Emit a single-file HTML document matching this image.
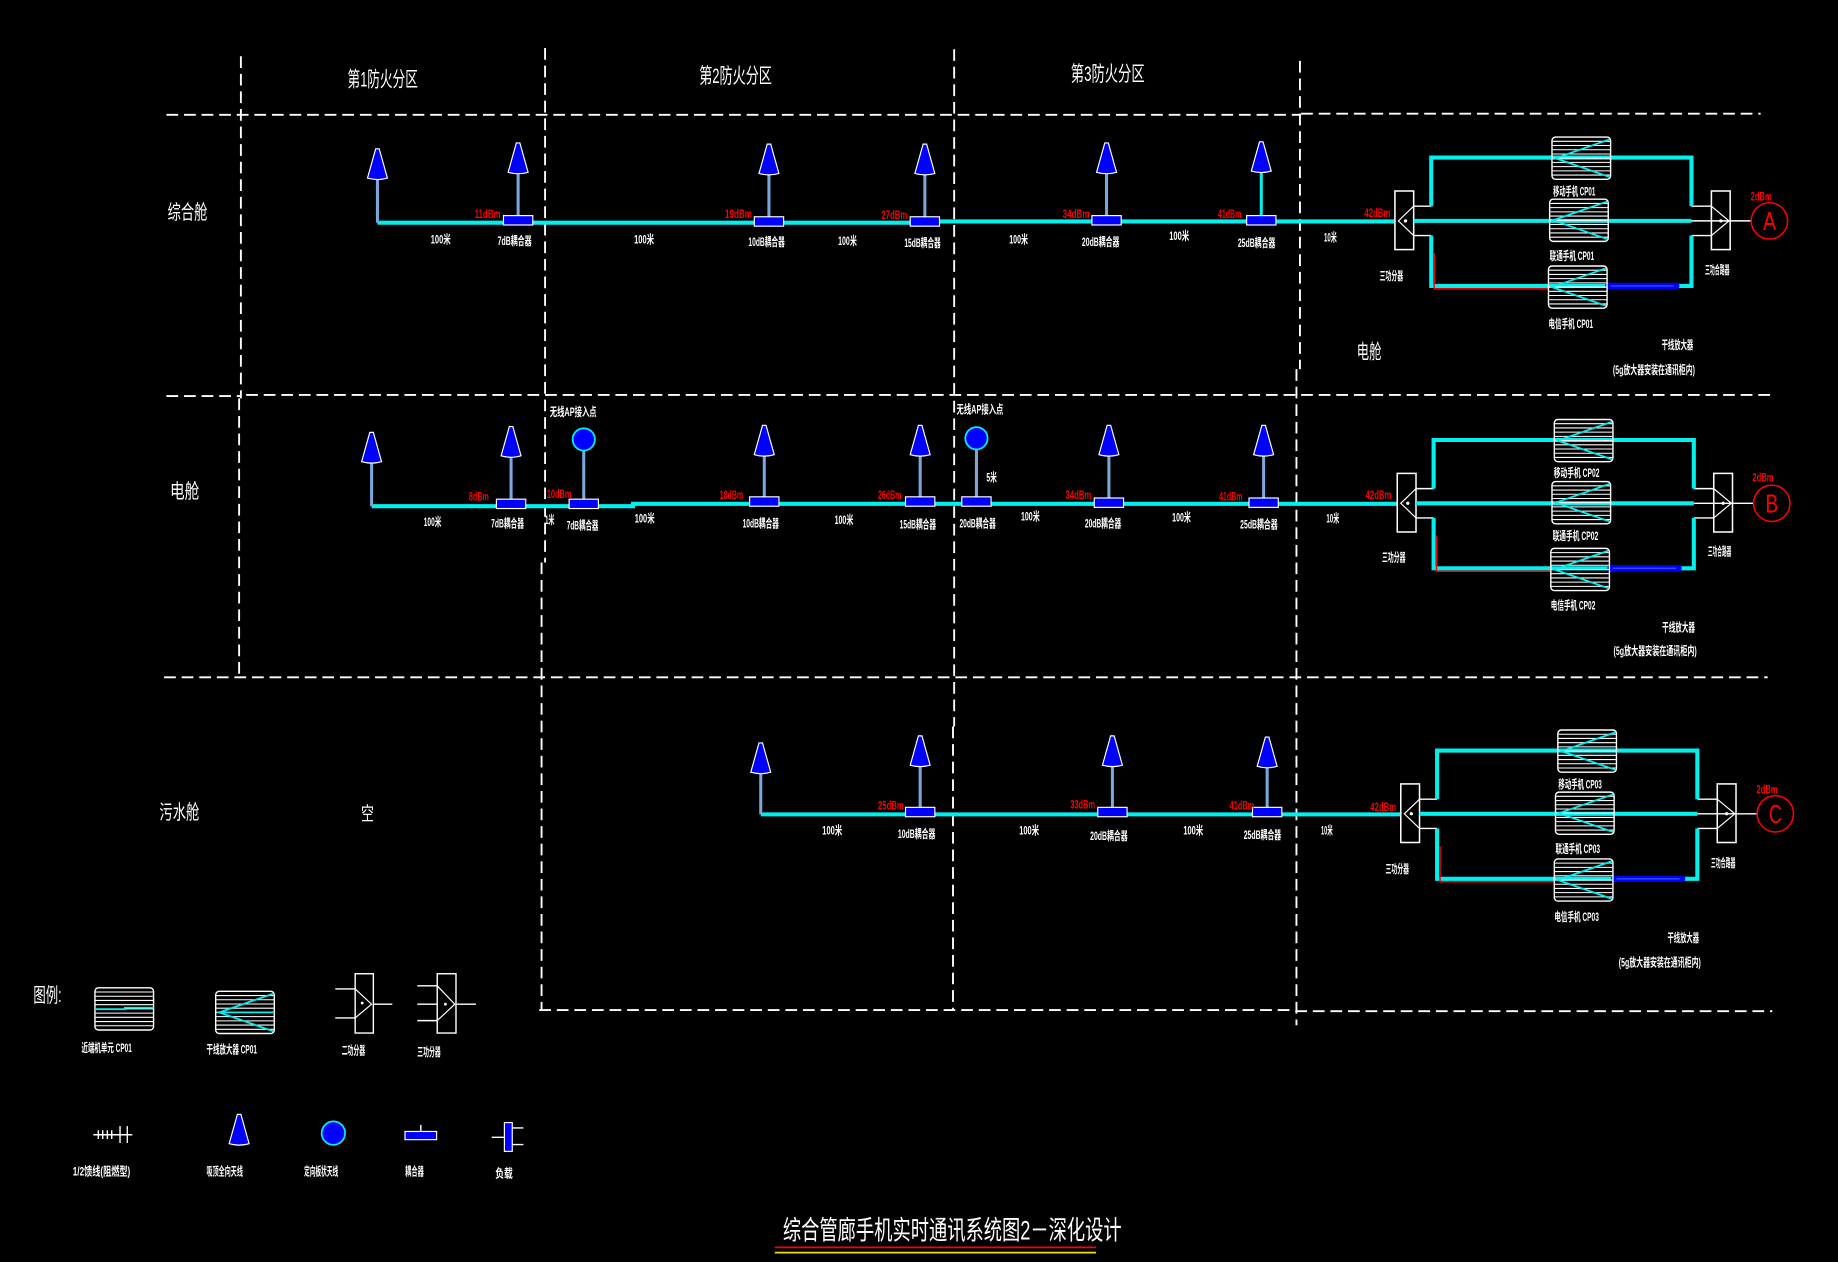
<!DOCTYPE html>
<html><head><meta charset="utf-8"><style>
html,body{margin:0;padding:0;background:#000;width:1838px;height:1262px;overflow:hidden}
svg{display:block}
text{font-family:"Liberation Sans","Noto Sans CJK SC",sans-serif;fill:#fff}
.s{font-size:10px;font-weight:bold}
.r{font-size:10px;font-weight:bold;fill:#ff0000}
.h{font-size:18px}
</style></head><body>
<svg width="1838" height="1262" viewBox="0 0 1568 1077" preserveAspectRatio="none" xmlns="http://www.w3.org/2000/svg" xmlns:xlink="http://www.w3.org/1999/xlink">
<defs>
<path id="ant" d="M-1.5,0 L1.5,0 L8.5,25 Q0,27.5 -8.5,25 Z" fill="#0000ff" stroke="#fff" stroke-width="1"/>
<rect id="cp" x="-12.5" y="-4" width="25" height="8" fill="#0000ff" stroke="#fff" stroke-width="1"/>
<g id="ampbase">
<rect x="0" y="0" width="50" height="36" rx="3" fill="none" stroke="#fff" stroke-width="1.2"/>
<path d="M0.5,3.6H49.5M0.5,7.2H49.5M0.5,10.8H49.5M0.5,14.4H49.5M0.5,18H49.5M0.5,21.6H49.5M0.5,25.2H49.5M0.5,28.8H49.5M0.5,32.4H49.5" stroke="#fff" stroke-width="0.9"/>
</g>
<g id="amp">
<use xlink:href="#ampbase"/>
<polyline points="49,2 3,18 49,34" fill="none" stroke="#00f0f0" stroke-width="1.5"/>
</g>
<g id="rb">
<rect x="1190" y="163" width="16" height="50" fill="none" stroke="#fff" stroke-width="1.3"/>
<polyline points="1206,176 1193,188.5 1206,201" fill="none" stroke="#fff" stroke-width="1"/>
<circle cx="1199" cy="188.5" r="1.4" fill="#fff"/>
<path d="M1206,176H1221M1206,201H1221M1443,176H1460M1443,201H1460M1443,188.5H1476M1476,188.5H1494" stroke="#fff" stroke-width="1.2"/>
<path d="M1221,176V134.5H1443V176M1206,188.5H1443M1221,201V244H1443V201" fill="none" stroke="#00f0f0" stroke-width="3.5"/>
<path d="M1223.5,216V246.5H1321" fill="none" stroke="#ff0000" stroke-width="1.3"/>
<line x1="1372" y1="244" x2="1430" y2="244" stroke="#0000ff" stroke-width="5.5" stroke-linecap="round"/>
<line x1="1374" y1="244" x2="1428" y2="244" stroke="#3050ff" stroke-width="1.2"/>
<rect x="1460" y="163" width="16" height="50" fill="none" stroke="#fff" stroke-width="1.3"/>
<polyline points="1460,176 1475,188.5 1460,201" fill="none" stroke="#fff" stroke-width="1"/>
<circle cx="1468" cy="188.5" r="1.4" fill="#fff"/>
<circle cx="1509.5" cy="188.5" r="15.5" fill="none" stroke="#ff0000" stroke-width="1.3"/>
<use xlink:href="#amp" x="1324" y="117"/>
<use xlink:href="#amp" x="1322" y="170"/>
<use xlink:href="#amp" x="1321" y="227"/>
</g>
</defs>

<!-- dashed grid -->
<g stroke="#fff" stroke-width="1.6" stroke-dasharray="10 5" fill="none">
<path d="M142,98H1110M1110,97H1502"/>
<path d="M142,338H205M210,337H1510"/>
<path d="M140,578H1508"/>
<path d="M460,862H1105M1105,863H1512"/>
<path d="M205.5,48V340M204,340V578"/>
<path d="M465,41V480M462,480V862"/>
<path d="M814,42V620M813,620V862"/>
<path d="M1109,52V315M1106,315V875"/>
</g>

<!-- headers -->
<text class="h" x="326.5" y="74" text-anchor="middle" textLength="60" lengthAdjust="spacingAndGlyphs">第1防火分区</text>
<text class="h" x="627.5" y="71" text-anchor="middle" textLength="62" lengthAdjust="spacingAndGlyphs">第2防火分区</text>
<text class="h" x="945" y="69" text-anchor="middle" textLength="63" lengthAdjust="spacingAndGlyphs">第3防火分区</text>

<text x="160" y="187" font-size="17" text-anchor="middle" textLength="34" lengthAdjust="spacingAndGlyphs">综合舱</text>
<text x="157.5" y="425" font-size="17" text-anchor="middle" textLength="25" lengthAdjust="spacingAndGlyphs">电舱</text>
<text x="153" y="699" font-size="17" text-anchor="middle" textLength="34" lengthAdjust="spacingAndGlyphs">污水舱</text>
<text x="313.5" y="700" font-size="16" text-anchor="middle" textLength="11" lengthAdjust="spacingAndGlyphs">空</text>
<text x="1168" y="306" font-size="17" text-anchor="middle" textLength="21" lengthAdjust="spacingAndGlyphs">电舱</text>

<!-- ROW 1 -->
<path d="M322,190H800V189H1190" fill="none" stroke="#00f0f0" stroke-width="3.5"/>
<g stroke="#7aa8dc" stroke-width="2.6">
<line x1="322" y1="152" x2="322" y2="190"/>
<line x1="442" y1="147" x2="442" y2="186"/>
<line x1="656" y1="148" x2="656" y2="186"/>
<line x1="789" y1="148" x2="789" y2="186"/>
<line x1="944" y1="147" x2="944" y2="186"/>
</g>
<line x1="1076" y1="146" x2="1076" y2="186" stroke="#00f0f0" stroke-width="2.6"/>
<use xlink:href="#ant" x="322" y="127"/>
<use xlink:href="#ant" x="442" y="122"/>
<use xlink:href="#ant" x="656" y="123"/>
<use xlink:href="#ant" x="789" y="123"/>
<use xlink:href="#ant" x="944" y="122"/>
<use xlink:href="#ant" x="1076" y="121"/>
<use xlink:href="#cp" x="442" y="188"/>
<use xlink:href="#cp" x="656" y="189"/>
<use xlink:href="#cp" x="789" y="189"/>
<use xlink:href="#cp" x="944" y="188"/>
<use xlink:href="#cp" x="1076" y="188"/>
<use xlink:href="#rb"/>

<g text-anchor="middle">
<text class="s" x="376" y="208" textLength="17" lengthAdjust="spacingAndGlyphs">100米</text>
<text class="s" x="439" y="209" textLength="29" lengthAdjust="spacingAndGlyphs">7dB耦合器</text>
<text class="s" x="549.5" y="208" textLength="17" lengthAdjust="spacingAndGlyphs">100米</text>
<text class="s" x="654" y="210" textLength="31" lengthAdjust="spacingAndGlyphs">10dB耦合器</text>
<text class="s" x="723" y="209" textLength="16" lengthAdjust="spacingAndGlyphs">100米</text>
<text class="s" x="787" y="211" textLength="31" lengthAdjust="spacingAndGlyphs">15dB耦合器</text>
<text class="s" x="869" y="208" textLength="16" lengthAdjust="spacingAndGlyphs">100米</text>
<text class="s" x="939" y="210" textLength="32" lengthAdjust="spacingAndGlyphs">20dB耦合器</text>
<text class="s" x="1006" y="205" textLength="17" lengthAdjust="spacingAndGlyphs">100米</text>
<text class="s" x="1072" y="211" textLength="32" lengthAdjust="spacingAndGlyphs">25dB耦合器</text>
<text class="s" x="1135" y="206" textLength="11" lengthAdjust="spacingAndGlyphs">10米</text>
<text class="r" x="416" y="186" textLength="22" lengthAdjust="spacingAndGlyphs">11dBm</text>
<text class="r" x="630" y="186" textLength="23" lengthAdjust="spacingAndGlyphs">19dBm</text>
<text class="r" x="763" y="187" textLength="22" lengthAdjust="spacingAndGlyphs">27dBm</text>
<text class="r" x="918" y="186" textLength="23" lengthAdjust="spacingAndGlyphs">34dBm</text>
<text class="r" x="1049" y="186" textLength="20" lengthAdjust="spacingAndGlyphs">41dBm</text>
<text class="r" x="1175" y="185" textLength="22" lengthAdjust="spacingAndGlyphs">42dBm</text>
<text class="r" x="1502.5" y="171" textLength="18" lengthAdjust="spacingAndGlyphs">2dBm</text>
<text x="1509.5" y="196.5" font-size="22" style="fill:#ff0000" textLength="11" lengthAdjust="spacingAndGlyphs">A</text>
<text class="s" x="1187" y="239" textLength="20" lengthAdjust="spacingAndGlyphs">三功分器</text>
<text class="s" x="1465" y="234" textLength="21" lengthAdjust="spacingAndGlyphs">三功合路器</text>
<text class="s" x="1343" y="167" textLength="36" lengthAdjust="spacingAndGlyphs">移动手机 CP01</text>
<text class="s" x="1341" y="222" textLength="38" lengthAdjust="spacingAndGlyphs">联通手机 CP01</text>
<text class="s" x="1340" y="280" textLength="38" lengthAdjust="spacingAndGlyphs">电信手机 CP01</text>
<text class="s" x="1431" y="298" textLength="27" lengthAdjust="spacingAndGlyphs">干线放大器</text>
<text class="s" x="1411" y="319" textLength="70" lengthAdjust="spacingAndGlyphs">(5g放大器安装在通讯柜内)</text>
</g>

<!-- ROW 2 -->
<path d="M317,432H540V430H1192" fill="none" stroke="#00f0f0" stroke-width="3.5"/>
<g stroke="#7aa8dc" stroke-width="2.6">
<line x1="317" y1="393" x2="317" y2="432"/>
<line x1="436" y1="388" x2="436" y2="427"/>
<line x1="498" y1="384" x2="498" y2="427"/>
<line x1="652" y1="387" x2="652" y2="425"/>
<line x1="785" y1="387" x2="785" y2="425"/>
<line x1="833" y1="383" x2="833" y2="425"/>
<line x1="946" y1="387" x2="946" y2="426"/>
<line x1="1078" y1="387" x2="1078" y2="426"/>
</g>
<use xlink:href="#ant" x="317" y="369"/>
<use xlink:href="#ant" x="436" y="364"/>
<use xlink:href="#ant" x="652" y="363"/>
<use xlink:href="#ant" x="785" y="363"/>
<use xlink:href="#ant" x="946" y="363"/>
<use xlink:href="#ant" x="1078" y="363"/>
<circle cx="498" cy="375" r="9.5" fill="#0000ff" stroke="#00f0f0" stroke-width="1.5"/>
<circle cx="833" cy="374" r="9.5" fill="#0000ff" stroke="#00f0f0" stroke-width="1.5"/>
<use xlink:href="#cp" x="436" y="430"/>
<use xlink:href="#cp" x="498" y="430"/>
<use xlink:href="#cp" x="652" y="428"/>
<use xlink:href="#cp" x="785" y="428"/>
<use xlink:href="#cp" x="833" y="428"/>
<use xlink:href="#cp" x="946" y="429"/>
<use xlink:href="#cp" x="1078" y="429"/>
<use xlink:href="#rb" transform="translate(2,241)"/>

<g text-anchor="middle">
<text class="s" x="369" y="449" textLength="15" lengthAdjust="spacingAndGlyphs">100米</text>
<text class="s" x="433" y="450" textLength="28" lengthAdjust="spacingAndGlyphs">7dB耦合器</text>
<text class="r" x="408.5" y="427" textLength="17" lengthAdjust="spacingAndGlyphs">8dBm</text>
<text class="s" x="469" y="447" textLength="8" lengthAdjust="spacingAndGlyphs">1米</text>
<text class="r" x="477" y="425" textLength="21" lengthAdjust="spacingAndGlyphs">10dBm</text>
<text class="s" x="489" y="355" textLength="40" lengthAdjust="spacingAndGlyphs">无线AP接入点</text>
<text class="s" x="497" y="452" textLength="27" lengthAdjust="spacingAndGlyphs">7dB耦合器</text>
<text class="s" x="550" y="446" textLength="17" lengthAdjust="spacingAndGlyphs">100米</text>
<text class="r" x="624" y="426" textLength="20" lengthAdjust="spacingAndGlyphs">18dBm</text>
<text class="s" x="649" y="450" textLength="31" lengthAdjust="spacingAndGlyphs">10dB耦合器</text>
<text class="s" x="720" y="447" textLength="16" lengthAdjust="spacingAndGlyphs">100米</text>
<text class="r" x="759" y="426" textLength="20" lengthAdjust="spacingAndGlyphs">26dBm</text>
<text class="s" x="783" y="451" textLength="31" lengthAdjust="spacingAndGlyphs">15dB耦合器</text>
<text class="s" x="836" y="353" textLength="40" lengthAdjust="spacingAndGlyphs">无线AP接入点</text>
<text class="s" x="846" y="411" textLength="9" lengthAdjust="spacingAndGlyphs">5米</text>
<text class="s" x="834" y="450" textLength="31" lengthAdjust="spacingAndGlyphs">20dB耦合器</text>
<text class="s" x="879" y="444" textLength="16" lengthAdjust="spacingAndGlyphs">100米</text>
<text class="r" x="920" y="426" textLength="22" lengthAdjust="spacingAndGlyphs">34dBm</text>
<text class="s" x="941" y="450" textLength="31" lengthAdjust="spacingAndGlyphs">20dB耦合器</text>
<text class="s" x="1008" y="445" textLength="16" lengthAdjust="spacingAndGlyphs">100米</text>
<text class="r" x="1050" y="427" textLength="20" lengthAdjust="spacingAndGlyphs">41dBm</text>
<text class="s" x="1074" y="451" textLength="32" lengthAdjust="spacingAndGlyphs">25dB耦合器</text>
<text class="s" x="1137" y="446" textLength="11" lengthAdjust="spacingAndGlyphs">10米</text>
<text class="r" x="1176" y="426" textLength="22" lengthAdjust="spacingAndGlyphs">42dBm</text>
<text class="r" x="1504" y="411" textLength="18" lengthAdjust="spacingAndGlyphs">2dBm</text>
<text x="1511.5" y="437.5" font-size="22" style="fill:#ff0000" textLength="11" lengthAdjust="spacingAndGlyphs">B</text>
<text class="s" x="1189" y="479" textLength="20" lengthAdjust="spacingAndGlyphs">三功分器</text>
<text class="s" x="1467" y="474" textLength="20" lengthAdjust="spacingAndGlyphs">三功合路器</text>
<text class="s" x="1345" y="407" textLength="39" lengthAdjust="spacingAndGlyphs">移动手机 CP02</text>
<text class="s" x="1344" y="461" textLength="39" lengthAdjust="spacingAndGlyphs">联通手机 CP02</text>
<text class="s" x="1342" y="520" textLength="38" lengthAdjust="spacingAndGlyphs">电信手机 CP02</text>
<text class="s" x="1432" y="539" textLength="28" lengthAdjust="spacingAndGlyphs">干线放大器</text>
<text class="s" x="1412" y="559" textLength="71" lengthAdjust="spacingAndGlyphs">(5g放大器安装在通讯柜内)</text>
</g>

<!-- ROW 3 -->
<path d="M649,695H1195" fill="none" stroke="#00f0f0" stroke-width="3.5"/>
<g stroke="#7aa8dc" stroke-width="2.6">
<line x1="649" y1="658" x2="649" y2="695"/>
<line x1="785" y1="652" x2="785" y2="690"/>
<line x1="949" y1="652" x2="949" y2="690"/>
<line x1="1081" y1="653" x2="1081" y2="690"/>
</g>
<use xlink:href="#ant" x="649" y="634"/>
<use xlink:href="#ant" x="785" y="628"/>
<use xlink:href="#ant" x="949" y="628"/>
<use xlink:href="#ant" x="1081" y="629"/>
<use xlink:href="#cp" x="785" y="693"/>
<use xlink:href="#cp" x="949" y="693"/>
<use xlink:href="#cp" x="1081" y="693"/>
<use xlink:href="#rb" transform="translate(5,506)"/>

<g text-anchor="middle">
<text class="s" x="710" y="712" textLength="17" lengthAdjust="spacingAndGlyphs">100米</text>
<text class="r" x="760" y="691" textLength="22" lengthAdjust="spacingAndGlyphs">25dBm</text>
<text class="s" x="782" y="715" textLength="32" lengthAdjust="spacingAndGlyphs">10dB耦合器</text>
<text class="s" x="878" y="712" textLength="17" lengthAdjust="spacingAndGlyphs">100米</text>
<text class="r" x="923.6" y="690" textLength="21" lengthAdjust="spacingAndGlyphs">33dBm</text>
<text class="s" x="946" y="717" textLength="32" lengthAdjust="spacingAndGlyphs">20dB耦合器</text>
<text class="s" x="1018" y="712" textLength="17" lengthAdjust="spacingAndGlyphs">100米</text>
<text class="r" x="1059.5" y="691" textLength="21" lengthAdjust="spacingAndGlyphs">41dBm</text>
<text class="s" x="1077" y="716" textLength="32" lengthAdjust="spacingAndGlyphs">25dB耦合器</text>
<text class="s" x="1132" y="712" textLength="10" lengthAdjust="spacingAndGlyphs">10米</text>
<text class="r" x="1180" y="692" textLength="22" lengthAdjust="spacingAndGlyphs">42dBm</text>
<text class="r" x="1507.5" y="677" textLength="18" lengthAdjust="spacingAndGlyphs">2dBm</text>
<text x="1514.5" y="702.5" font-size="22" style="fill:#ff0000" textLength="11" lengthAdjust="spacingAndGlyphs">C</text>
<text class="s" x="1192" y="745" textLength="20" lengthAdjust="spacingAndGlyphs">三功分器</text>
<text class="s" x="1470" y="740" textLength="21" lengthAdjust="spacingAndGlyphs">三功合路器</text>
<text class="s" x="1348" y="673" textLength="37" lengthAdjust="spacingAndGlyphs">移动手机 CP03</text>
<text class="s" x="1346" y="728" textLength="38" lengthAdjust="spacingAndGlyphs">联通手机 CP03</text>
<text class="s" x="1345" y="786" textLength="38" lengthAdjust="spacingAndGlyphs">电信手机 CP03</text>
<text class="s" x="1436" y="804" textLength="27" lengthAdjust="spacingAndGlyphs">干线放大器</text>
<text class="s" x="1416" y="825" textLength="70" lengthAdjust="spacingAndGlyphs">(5g放大器安装在通讯柜内)</text>
</g>

<!-- LEGEND -->
<text x="40.5" y="855" font-size="17" text-anchor="middle" textLength="24" lengthAdjust="spacingAndGlyphs">图例:</text>
<use xlink:href="#ampbase" x="81" y="843"/>
<path d="M81,861.3H106.6V860H131" fill="none" stroke="#00f0f0" stroke-width="1.5"/>
<use xlink:href="#amp" x="184" y="846"/>
<line x1="185" y1="864" x2="234" y2="864" stroke="#00f0f0" stroke-width="1.5"/>
<!-- two-way splitter -->
<g stroke="#fff" stroke-width="1.2" fill="none">
<rect x="303" y="831" width="15.5" height="50.6"/>
<path d="M286,844H303M286,868.7H303M318.5,857H334.7"/>
<polyline points="303,844 317,857 303,868.7" stroke-width="1"/>
<rect x="373" y="831" width="16" height="50.6"/>
<path d="M356,841.3H373M356,857H373M356,871H373M389,857H406"/>
<polyline points="373,841.3 388,857 373,871" stroke-width="1"/>
</g>
<circle cx="309" cy="856" r="1.2" fill="#fff"/>
<circle cx="380" cy="857" r="1.2" fill="#fff"/>
<g text-anchor="middle">
<text class="s" x="91" y="898" textLength="43" lengthAdjust="spacingAndGlyphs">近端机单元 CP01</text>
<text class="s" x="197.7" y="899" textLength="43" lengthAdjust="spacingAndGlyphs">干线放大器 CP01</text>
<text class="s" x="301.5" y="900" textLength="20" lengthAdjust="spacingAndGlyphs">二功分器</text>
<text class="s" x="366" y="901" textLength="20" lengthAdjust="spacingAndGlyphs">三功分器</text>
</g>
<!-- legend row 2 -->
<g stroke="#fff" stroke-width="1.2">
<line x1="79.6" y1="968.4" x2="112.9" y2="968.4"/>
<path d="M83.9,964.6V972M87.6,964.6V972M91.6,964.6V972M95.3,964.6V972M102.4,961V975.4M108.6,961V975.4"/>
</g>
<path d="M202.5,951 L205.5,951 L212.5,976 Q204,978.5 195.5,976 Z" fill="#0000ff" stroke="#fff" stroke-width="1"/>
<circle cx="284.4" cy="967" r="10" fill="#0000ff" stroke="#00f0f0" stroke-width="1.5"/>
<line x1="359" y1="960" x2="359" y2="965.6" stroke="#fff" stroke-width="1.2"/>
<rect x="345.5" y="965.6" width="27" height="7" fill="#0000ff" stroke="#fff" stroke-width="1"/>
<rect x="430.3" y="958" width="6.7" height="24.6" fill="#0000ff" stroke="#fff" stroke-width="1"/>
<path d="M437,962.6H446.5M437,976.8H446.5M419.5,970.6H430.3" stroke="#fff" stroke-width="1.2"/>
<g text-anchor="middle">
<text class="s" x="86.6" y="1003" textLength="49" lengthAdjust="spacingAndGlyphs">1/2馈线(阻燃型)</text>
<text class="s" x="191.7" y="1003" textLength="31" lengthAdjust="spacingAndGlyphs">吸顶全向天线</text>
<text class="s" x="274" y="1003" textLength="29" lengthAdjust="spacingAndGlyphs">定向板状天线</text>
<text class="s" x="353.6" y="1003" textLength="16" lengthAdjust="spacingAndGlyphs">耦合器</text>
<text class="s" x="430" y="1005" textLength="15" lengthAdjust="spacingAndGlyphs">负载</text>
</g>

<!-- TITLE -->
<text x="812.4" y="1058" font-size="23" text-anchor="middle" textLength="289" lengthAdjust="spacingAndGlyphs">综合管廊手机实时通讯系统图2－深化设计</text>
<line x1="661" y1="1064.5" x2="935" y2="1064.5" stroke="#ff0000" stroke-width="1.5"/>
<line x1="661" y1="1069" x2="935" y2="1069" stroke="#e6e600" stroke-width="1.5"/>
</svg>
</body></html>
